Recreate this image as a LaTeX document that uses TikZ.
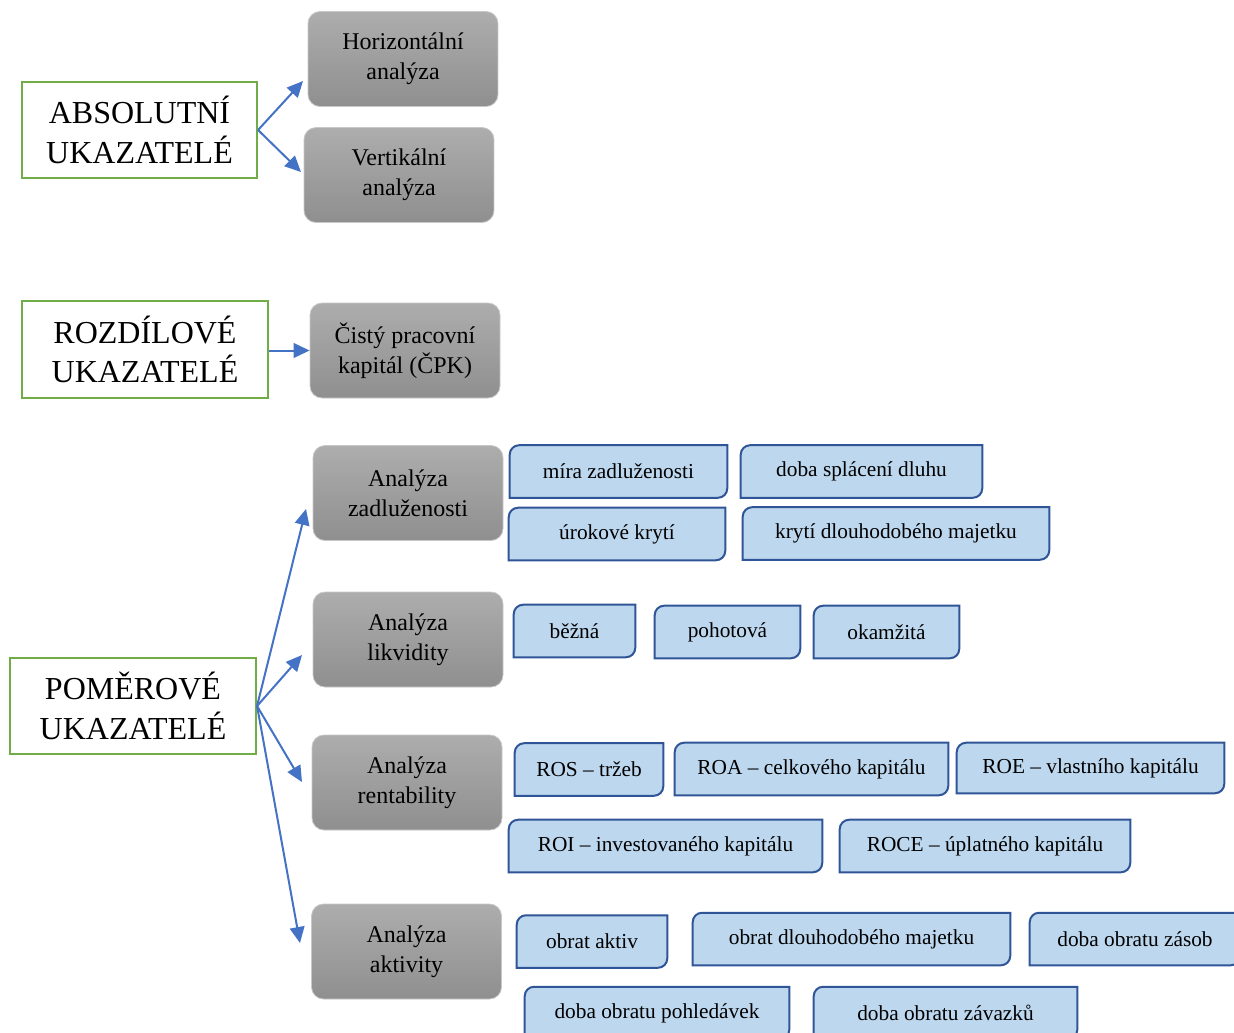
\documentclass[tikz,border=0pt]{standalone}
\usepackage{fontspec}
\setmainfont{Liberation Serif}
\usetikzlibrary{arrows.meta, backgrounds}

\definecolor{kindgreen}{HTML}{70AD47}
\definecolor{arrowblue}{HTML}{4472C4}
\definecolor{boxtop}{HTML}{ADADAD}
\definecolor{boxbottom}{HTML}{8F8F8F}
\definecolor{boxline}{HTML}{C8C8C8}
\definecolor{ratiofill}{HTML}{BDD7EE}
\definecolor{ratioline}{HTML}{2F5597}

\tikzset{
  kind/.style={draw=kindgreen, line width=1.6pt, fill=white, align=center, inner sep=0pt, font=\fontsize{24}{29.5}\selectfont},
  method/.style={draw=boxline, line width=0.6pt, rounded corners=9pt, top color=boxtop, bottom color=boxbottom, align=center, inner sep=0pt, minimum width=142.5pt, minimum height=71.25pt, font=\fontsize{18}{22.5}\selectfont},
  ratio/.style={inner sep=0pt, minimum height=39pt, font=\fontsize{16}{19}\selectfont},
  ratioframe/.style={draw=ratioline, fill=ratiofill, line width=1.5pt},
  link/.style={draw=arrowblue, line width=1.5pt, -{Triangle[length=12pt,width=11pt]}}
}

\begin{document}
\begin{tikzpicture}[x=0.75pt, y=-0.75pt]
\useasboundingbox (0,0) rectangle (1234,1032);
\clip (0,0) rectangle (1234,1032);

% kinds of indicators
\node[kind, minimum width=176.25pt, minimum height=72pt] (absol) at (139.5,130) {ABSOLUTNÍ\\UKAZATELÉ};
\node[kind, minimum width=184.5pt, minimum height=72.75pt] (rozdil) at (145,349.5) {ROZDÍLOVÉ\\UKAZATELÉ};
\node[kind, minimum width=184.5pt, minimum height=72pt] (pomer) at (133,706) {POMĚROVÉ\\UKAZATELÉ};

% methods
\node[method] (horiz) at (403,59) {Horizontální\\analýza};
\node[method] (vert) at (399,175) {Vertikální\\analýza};
\node[method] (cpk) at (405,350.5) {Čistý pracovní\\kapitál (ČPK)};
\node[method] (zadl) at (408,493) {Analýza\\zadluženosti};
\node[method] (likv) at (408,639.5) {Analýza\\likvidity};
\node[method] (rent) at (407,782.5) {Analýza\\rentability};
\node[method] (aktiv) at (406.5,951.5) {Analýza\\aktivity};

% ratios
\node[ratio, minimum width=162.75pt] (mira) at (618.5,471.5) {míra zadluženosti};
\node[ratio, minimum width=180.75pt] (splac) at (861.5,471.5) {doba splácení dluhu};
\node[ratio, minimum width=162pt] (urok) at (617,534) {úrokové krytí};
\node[ratio, minimum width=229.5pt] (kryti) at (896,533.5) {krytí dlouhodobého majetku};

\node[ratio, minimum width=90.75pt] (bezna) at (574.5,631) {běžná};
\node[ratio, minimum width=108.75pt] (pohot) at (727.5,632) {pohotová};
\node[ratio, minimum width=108.75pt] (okamz) at (886.5,632) {okamžitá};

\node[ratio, minimum width=111pt] (ros) at (589,769.5) {ROS – tržeb};
\node[ratio, minimum width=204.75pt] (roa) at (811.5,769) {ROA – celkového kapitálu};
\node[ratio, minimum width=200.25pt, minimum height=37.5pt] (roe) at (1090.5,768) {ROE – vlastního kapitálu};
\node[ratio, minimum width=234.75pt] (roi) at (665.5,846) {ROI – investovaného kapitálu};
\node[ratio, minimum width=217.5pt] (roce) at (985,846) {ROCE – úplatného kapitálu};

\node[ratio, minimum width=112.5pt] (obrakt) at (592,941.5) {obrat aktiv};
\node[ratio, minimum width=237.75pt] (obrdlouh) at (851.5,939) {obrat dlouhodobého majetku};
\node[ratio, minimum width=157.5pt] (zasob) at (1135,939) {doba obratu zásob};
\node[ratio, minimum width=198pt] (pohled) at (657,1013) {doba obratu pohledávek};
\node[ratio, minimum width=197.25pt] (zavaz) at (945.5,1013) {doba obratu závazků};

\begin{pgfonlayer}{background}
\foreach \r in {mira,splac,urok,kryti,bezna,pohot,okamz,ros,roa,roe,roi,roce,obrakt,obrdlouh,zasob,pohled,zavaz}
  \draw[ratioframe] (\r.north east) -- ([xshift=7pt]\r.north west) arc[start angle=90, end angle=180, radius=7pt]
    -- (\r.south west) -- ([xshift=-7pt]\r.south east) arc[start angle=270, end angle=360, radius=7pt] -- cycle;
\end{pgfonlayer}

% arrows
\coordinate (horizin) at (303,81);
\coordinate (vertin) at (301,172);
\coordinate (zadlin) at (306,509);
\coordinate (likvin) at (302,655);
\coordinate (rentin) at (302,782);
\coordinate (aktivin) at (300,943);

\draw[link] (absol.east) -- (horizin);
\draw[link] (absol.east) -- (vertin);
\draw[link] (rozdil.east |- cpk.west) -- (cpk.west);
\draw[link] (pomer.east) -- (zadlin);
\draw[link] (pomer.east) -- (likvin);
\draw[link] (pomer.east) -- (rentin);
\draw[link] (pomer.east) -- (aktivin);
\end{tikzpicture}
\end{document}
